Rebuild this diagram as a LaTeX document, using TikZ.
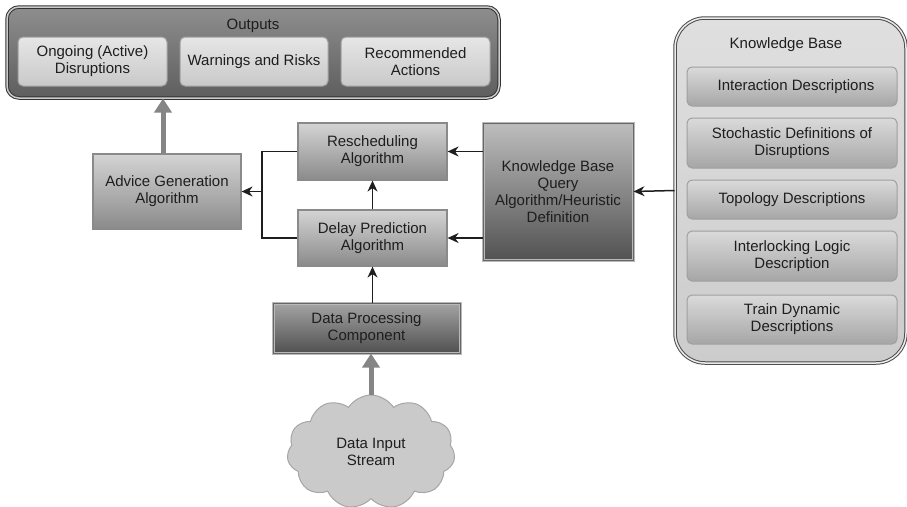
\documentclass[tikz,border=0pt]{standalone}
\usepackage{fontspec}
\setmainfont{Liberation Sans}
\usetikzlibrary{positioning,arrows.meta,shapes.symbols}

\definecolor{txt}{HTML}{1E1E1E}
\definecolor{algotop}{HTML}{D4D4D4}
\definecolor{algobot}{HTML}{8A8A8A}
\definecolor{algoedge}{HTML}{8A8A8A}
\definecolor{qtop}{HTML}{BDBDBD}
\definecolor{qbot}{HTML}{525252}
\definecolor{dptop}{HTML}{A4A4A4}
\definecolor{dpbot}{HTML}{505050}
\definecolor{itemtop}{HTML}{E6E6E6}
\definecolor{itembot}{HTML}{C9C9C9}
\definecolor{kbtop}{HTML}{DADADA}
\definecolor{kbbot}{HTML}{A6A6A6}
\definecolor{grouptop}{HTML}{8E8E8E}
\definecolor{groupbot}{HTML}{5E5E5E}
\definecolor{flowcol}{HTML}{858585}
\definecolor{cloudfill}{HTML}{CACACA}

\tikzset{
	base/.style={font=\fontsize{15}{17}\selectfont, text=txt, align=center, inner sep=0pt},
	algo/.style={base, draw=algoedge, line width=1.2pt, top color=algotop, bottom color=algobot},
	query/.style={base, draw=gray!55, double=gray!80!black, double distance=1pt, line width=1pt, top color=qtop, bottom color=qbot},
	item/.style={base, draw=gray!75, line width=1pt, rounded corners=5pt},
	group/.style={draw=gray!40!black, double=gray!40, double distance=1.5pt, line width=1pt},
	link/.style={-{Stealth[length=11pt,width=10pt]}, line width=1.5pt, draw=txt},
	flow/.style={-{Triangle[length=14pt,width=17pt]}, line width=5pt, draw=flowcol},
}

\begin{document}
\begin{tikzpicture}[x=1pt, y=-1pt]
	\useasboundingbox (0,0) rectangle (907,506);

	% outputs
	\node[group, rounded corners=12pt, top color=grouptop, bottom color=groupbot, minimum width=492pt, minimum height=91pt] (outputs) at (253,52.5) {};
	\node[base] (outtitle) at (253,26) {Outputs};
	\node[item, top color=itemtop, bottom color=itembot, minimum width=149pt, minimum height=49pt] (out1) at (92.5,61.5) {Ongoing (Active)\\Disruptions};
	\node[item, top color=itemtop, bottom color=itembot, minimum width=148pt, minimum height=49pt, right=12pt of out1] (out2) {Warnings and Risks};
	\node[item, top color=itemtop, bottom color=itembot, minimum width=149pt, minimum height=49pt, right=12pt of out2] (out3) {Recommended\\Actions};

	% algorithms
	\node[algo, minimum width=148pt, minimum height=75pt] (advice) at (167,191.5) {Advice Generation\\Algorithm};
	\node[algo, minimum width=149pt, minimum height=57pt] (resched) at (372.5,151.5) {Rescheduling\\Algorithm};
	\node[algo, minimum width=149pt, minimum height=56pt] (delay) at (372.5,238) {Delay Prediction\\Algorithm};
	\node[query, minimum width=150pt, minimum height=137pt] (kbq) at (558,191.5) {Knowledge Base\\Query\\Algorithm/Heuristic\\Definition};
	\node[query, top color=dptop, bottom color=dpbot, minimum width=187pt, minimum height=50pt] (dataproc) at (366.5,328) {Data Processing\\Component};

	% input
	\node[base, cloud, cloud puffs=11, cloud puff arc=115, aspect=1.45, draw=gray!70, line width=1pt, fill=cloudfill, minimum width=168pt, minimum height=114pt] (input) at (371,452) {Data Input\\Stream};

	% knowledge base
	\node[group, draw=gray!60!black, double=gray!15, rounded corners=30pt, top color=gray!25, bottom color=gray!40, minimum width=231pt, minimum height=345pt] (kb) at (790.5,190.5) {};
	\node[base] (kbtitle) at (786,45) {Knowledge Base};
	\node[item, top color=kbtop, bottom color=kbbot, minimum width=210pt, minimum height=39pt] (kb1) at (792,86.5) {\hspace{8pt}Interaction Descriptions};
	\node[item, top color=kbtop, bottom color=kbbot, minimum width=210pt, minimum height=50pt, below=11pt of kb1] (kb2) {Stochastic Definitions of\\Disruptions};
	\node[item, top color=kbtop, bottom color=kbbot, minimum width=210pt, minimum height=39pt, below=11pt of kb2] (kb3) {Topology Descriptions};
	\node[item, top color=kbtop, bottom color=kbbot, minimum width=210pt, minimum height=50pt, below=11pt of kb3] (kb4) {Interlocking Logic\\Description};
	\node[item, top color=kbtop, bottom color=kbbot, minimum width=210pt, minimum height=49pt, below=13pt of kb4] (kb5) {Train Dynamic\\Descriptions};

	% connectors
	\coordinate (join) at (262,191.5);
	\draw[line width=1.5pt, draw=txt] (resched.west) -| (join) |- (delay.west);
	\draw[link] (join) -- (advice.east);
	\draw[link] (delay) -- (resched);
	\draw[link] (kbq.west |- resched.east) -- (resched.east);
	\draw[link] (kbq.west |- delay.east) -- (delay.east);
	\draw[link] (kb.west) -- (kbq.east);
	\draw[link] (delay.south |- dataproc.north) -- (delay.south);
	\draw[flow] ([xshift=-4pt]advice.north) -- ([xshift=-4pt]advice.north |- outputs.south);
	\draw[flow] (input.north) -- (input.north |- dataproc.south);
\end{tikzpicture}
\end{document}
